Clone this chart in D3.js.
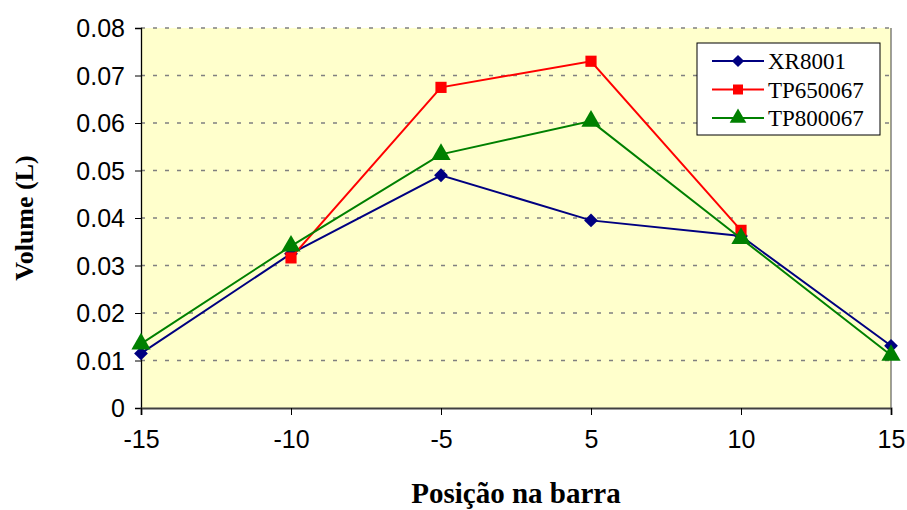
<!DOCTYPE html>
<html><head><meta charset="utf-8">
<script src="https://cdn.jsdelivr.net/npm/d3@7"></script>
<style>body{margin:0;background:#fff}</style>
</head><body>
<svg id="c" width="907" height="510"></svg>
<script>
const categories = ["-15","-10","-5","5","10","15"];
const xr8001 = [0.0115,0.0325,0.0490,0.0395,0.0362,0.0131];
const tp650067 = [null,0.0316,0.0675,0.0730,0.0374,null];
const tp800067 = [0.0135,0.0341,0.0534,0.0604,0.0357,0.0111];
const yTicks = [0,0.01,0.02,0.03,0.04,0.05,0.06,0.07,0.08];
const seriesNames = ["XR8001","TP650067","TP800067"];
const seriesColors = ["#000080","#FF0000","#008000"];
const series = [xr8001,tp650067,tp800067];

const svg = d3.select("#c");
const L=141,R=891,T=28,B=408;
const x = d3.scalePoint().domain(categories).range([L,R]);
const y = d3.scaleLinear().domain([0,0.08]).range([B,T]);

svg.append("rect").attr("x",L).attr("y",T).attr("width",R-L).attr("height",B-T).attr("fill","#FFFFCC");
svg.append("g").selectAll("line").data(yTicks.filter(d=>d>0)).join("line")
  .attr("x1",L).attr("x2",R).attr("y1",d=>y(d)).attr("y2",d=>y(d))
  .attr("stroke","#808080").attr("stroke-width",1.3).attr("stroke-dasharray","4,8");
svg.append("line").attr("x1",R).attr("x2",R).attr("y1",T).attr("y2",B).attr("stroke","#404040").attr("stroke-width",1);

const yAxis = svg.append("g").attr("transform",`translate(${L},0)`)
  .call(d3.axisLeft(y).tickValues(yTicks).tickFormat(d=>d===0?"0":d3.format(".2f")(d)).tickSize(6).tickPadding(10));
const xAxis = svg.append("g").attr("transform",`translate(0,${B})`)
  .call(d3.axisBottom(x).tickSize(7).tickPadding(15));
[yAxis,xAxis].forEach(a=>{
  a.attr("font-size",null);
  a.select(".domain").attr("stroke","#000").attr("stroke-width",1.3);
  a.selectAll(".tick line").attr("stroke","#000");
  a.selectAll("text").style("font-family","'Liberation Sans', Arial, sans-serif").style("font-size","25px").attr("fill","#000");
});
yAxis.selectAll("text").attr("dy","0.35em");
xAxis.select(".domain").attr("stroke","#404040").attr("stroke-width",2);

const line = d3.line().defined(d=>d.v!=null).x(d=>x(d.c)).y(d=>y(d.v));
const symTypes=[d3.symbolSquare,d3.symbolSquare,d3.symbolTriangle];
series.forEach((s,i)=>{
  const pts = categories.map((c,j)=>({c,v:s[j]}));
  svg.append("path").datum(pts).attr("d",line).attr("fill","none")
    .attr("stroke",seriesColors[i]).attr("stroke-width",2);
  const sizes=[95,125,160];
  svg.append("g").selectAll("path").data(pts.filter(d=>d.v!=null)).join("path")
    .attr("d",d3.symbol().type(symTypes[i]).size(sizes[i]))
    .attr("transform",d=>`translate(${x(d.c)},${y(d.v)})`+(i===0?" rotate(45)":""))
    .attr("fill",seriesColors[i]);
});

const lg = svg.append("g");
lg.append("rect").attr("x",697).attr("y",43).attr("width",183).attr("height",92)
  .attr("fill","#fff").attr("stroke","#000").attr("stroke-width",1);
seriesNames.forEach((n,i)=>{
  const yy = 61 + i*28.5;
  lg.append("line").attr("x1",712).attr("x2",764).attr("y1",yy).attr("y2",yy)
    .attr("stroke",seriesColors[i]).attr("stroke-width",2);
  lg.append("path").attr("d",d3.symbol().type(symTypes[i]).size([75,100,120][i]))
    .attr("transform",`translate(738,${yy})`+(i===0?" rotate(45)":"")).attr("fill",seriesColors[i]);
  lg.append("text").attr("x",768).attr("y",yy).attr("dy","0.35em")
    .style("font-family","'Liberation Serif', 'Times New Roman', serif").style("font-size","23px").text(n);
});

svg.append("text").attr("x",(L+R)/2).attr("y",503).attr("text-anchor","middle")
  .style("font-family","'Liberation Serif', 'Times New Roman', serif").style("font-weight","bold").style("font-size","29px")
  .text("Posição na barra");
svg.append("text").attr("transform",`translate(33,${(T+B)/2}) rotate(-90)`).attr("text-anchor","middle")
  .style("font-family","'Liberation Serif', 'Times New Roman', serif").style("font-weight","bold").style("font-size","26px")
  .text("Volume (L)");
</script>
</body></html>
